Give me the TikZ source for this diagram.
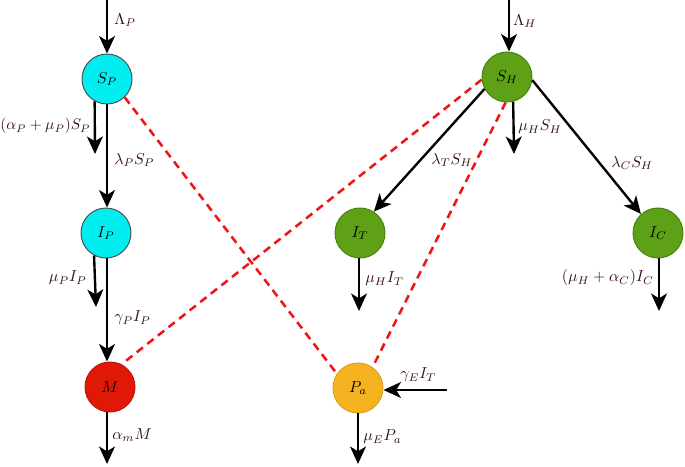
\documentclass[tikz,border=0pt]{standalone}
\usetikzlibrary{arrows.meta}
\definecolor{cyanfill}{RGB}{0,238,240}
\definecolor{greenfill}{RGB}{94,160,22}
\definecolor{greenline}{RGB}{70,130,15}
\definecolor{redfill}{RGB}{224,24,8}
\definecolor{redline}{RGB}{190,20,10}
\definecolor{orangefill}{RGB}{247,178,34}
\definecolor{orangeline}{RGB}{215,160,30}
\definecolor{labelcol}{RGB}{55,18,18}
\definecolor{dashred}{RGB}{240,20,20}
\begin{document}
\begin{tikzpicture}[x=0.63pt,y=-0.63pt,
  compartment/.style={circle,minimum size=31.5pt,inner sep=0pt,line width=0.6pt,font=\normalsize},
  flow/.style={line width=1.5pt,-{Stealth[length=11pt,width=10pt,inset=3pt]}},
  link/.style={line width=1.6pt,dashed,dash pattern=on 5pt off 3.5pt,color=dashred},
  lab/.style={text=labelcol,inner sep=0pt}]
\useasboundingbox (0,0) rectangle (685,467);
% compartments
\node[compartment,fill=cyanfill,draw=black!70] (SP) at (107,79) {$S_P$};
\node[compartment,fill=cyanfill,draw=black!70] (IP) at (106,233) {$I_P$};
\node[compartment,fill=redfill,draw=redline] (M) at (110,387) {$M$};
\node[compartment,fill=greenfill,draw=greenline] (SH) at (507,77) {$S_H$};
\node[compartment,fill=greenfill,draw=greenline] (IT) at (360,233) {$I_T$};
\node[compartment,fill=greenfill,draw=greenline] (IC) at (658,233) {$I_C$};
\node[compartment,fill=orangefill,draw=orangeline] (Pa) at (358,388) {$P_a$};
% free ends
\coordinate (inP) at (107,0);
\coordinate (inH) at (509,0);
\coordinate (outSP) at (95,154);
\coordinate (outIP) at (96,307);
\coordinate (outM) at (107,464);
\coordinate (outSH) at (514,154);
\coordinate (outIT) at (359,311);
\coordinate (outIC) at (659,311);
\coordinate (outPa) at (358,464);
\coordinate (inPa) at (447,390);
% dashed links
\draw[link] (SP.-46) -- (Pa.146);
\draw[link] (SH.186) -- (M.63);
\draw[link] (SH.-93) -- (Pa.55);
% flows
\draw[flow] (inP) -- (inP |- SP.north);
\draw[flow] (SP.south -| inP) -- (inP |- IP.north);
\draw[flow] (SP.241) -- (outSP);
\draw[flow] (IP.242) -- (outIP);
\draw[flow] (IP.south -| inP) -- (inP |- M.north);
\draw[flow] (M.south -| outM) -- (outM);
\draw[flow] (inH) -- (inH |- SH.north);
\draw[flow] (SH.-76) -- (outSH);
\draw[flow] (SH.208) -- (IT.57);
\draw[flow] (SH.-7) -- (IC.132);
\draw[flow] (IT.south -| outIT) -- (outIT);
\draw[flow] (IC.south -| outIC) -- (outIC);
\draw[flow] (inPa) -- (Pa.east |- inPa);
\draw[flow] (Pa.south) -- (outPa);
% labels
\node[lab,anchor=west] (l1) at (114,20) {$\Lambda_P$};
\node[lab,anchor=west,scale=0.97] (l2) at (0,126) {$(\alpha_P+\mu_P)S_P$};
\node[lab,anchor=west] (l3) at (114,160) {$\lambda_P S_P$};
\node[lab,anchor=east] (l4) at (87,278) {$\mu_P I_P$};
\node[lab,anchor=west] (l5) at (114,318) {$\gamma_P I_P$};
\node[lab,anchor=west] (l6) at (112,435) {$\alpha_m M$};
\node[lab,anchor=west] (l7) at (513,21) {$\Lambda_H$};
\node[lab,anchor=west] (l8) at (518,127) {$\mu_H S_H$};
\node[lab,anchor=west] (l9) at (431,160) {$\lambda_T S_H$};
\node[lab,anchor=west] (l10) at (611,163) {$\lambda_C S_H$};
\node[lab,anchor=west] (l11) at (365,279) {$\mu_H I_T$};
\node[lab,anchor=east] (l12) at (654,278) {$(\mu_H+\alpha_C)I_C$};
\node[lab,anchor=west] (l13) at (400,375) {$\gamma_E I_T$};
\node[lab,anchor=west] (l14) at (363,437) {$\mu_E P_a$};
\end{tikzpicture}
\end{document}
